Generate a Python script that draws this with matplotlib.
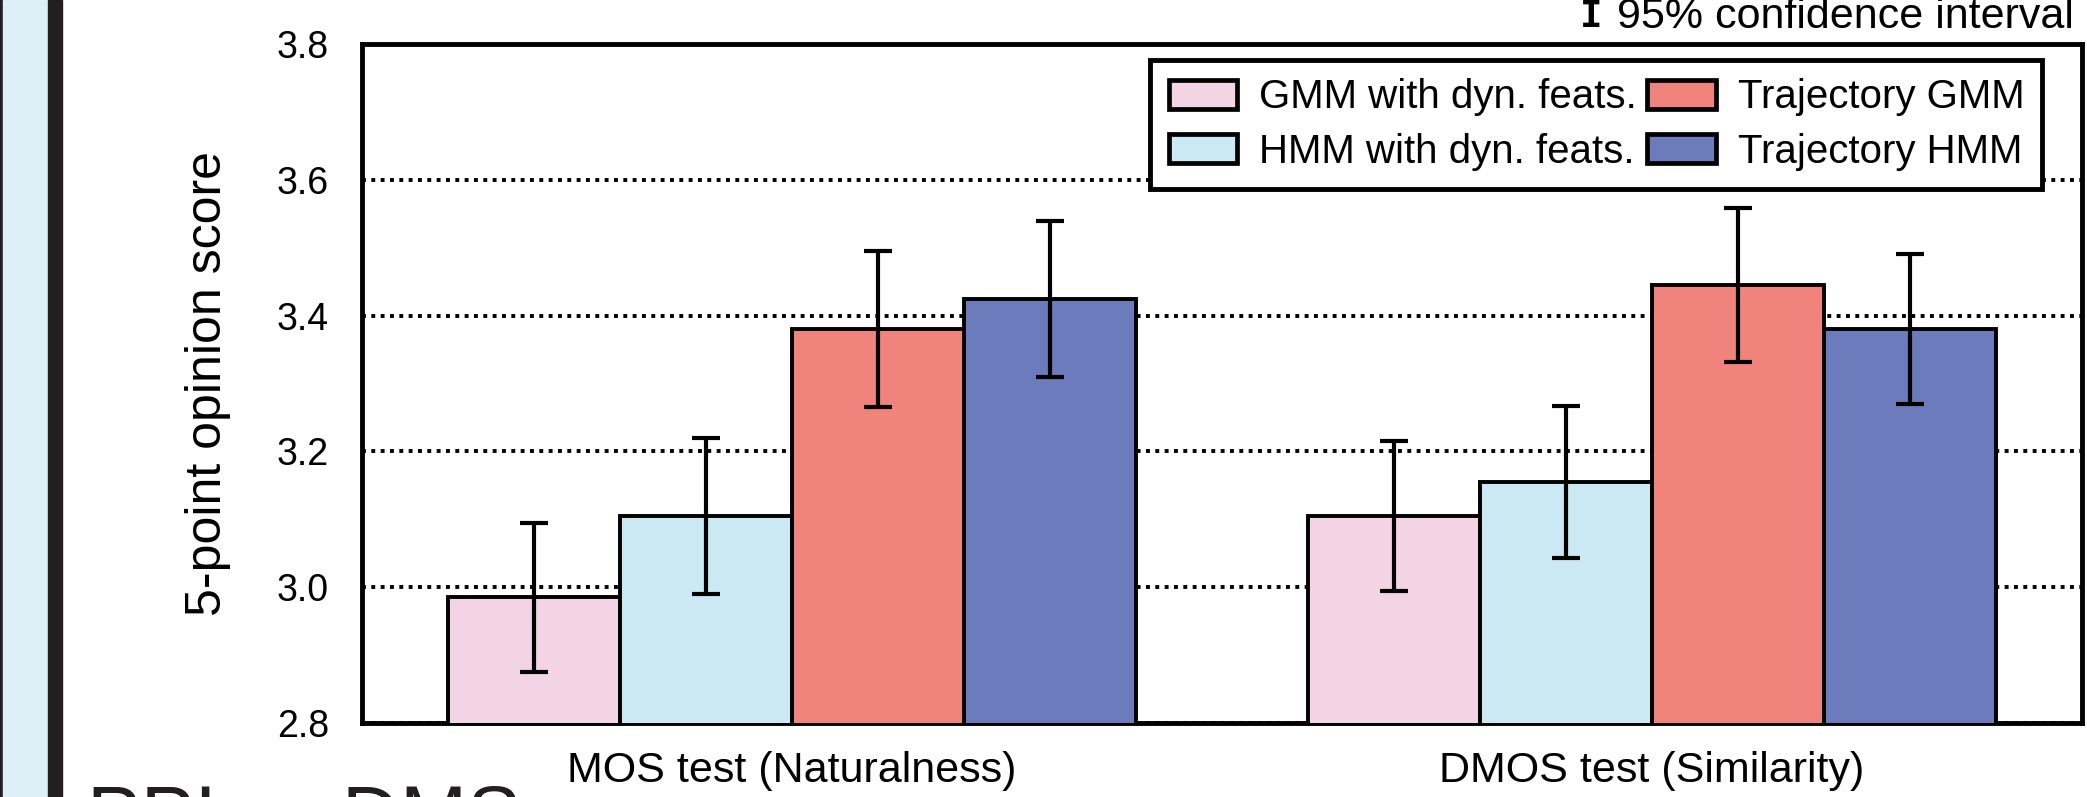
import matplotlib.pyplot as plt
import matplotlib.patches as mpatches
import numpy as np

plt.rcParams['font.family'] = ['Liberation Sans', 'DejaVu Sans']

# data
tests = ["MOS test (Naturalness)", "DMOS test (Similarity)"]
methods = ["GMM with dyn. feats.", "HMM with dyn. feats.", "Trajectory GMM", "Trajectory HMM"]
scores = {
    "GMM with dyn. feats.": [2.985, 3.105],
    "HMM with dyn. feats.": [3.105, 3.155],
    "Trajectory GMM": [3.38, 3.445],
    "Trajectory HMM": [3.425, 3.38],
}
ci = {
    "GMM with dyn. feats.": [0.11, 0.11],
    "HMM with dyn. feats.": [0.115, 0.112],
    "Trajectory GMM": [0.115, 0.114],
    "Trajectory HMM": [0.115, 0.11],
}
colors = ["#F2D4E4", "#CBE9F3", "#F0837B", "#6B7BBB"]
yticks = [2.8, 3.0, 3.2, 3.4, 3.6, 3.8]

fig = plt.figure(figsize=(20.87, 7.97), dpi=100)

# slide decoration on the left edge
fig.patches.append(mpatches.Rectangle((0, 0), 3 / 2087, 1, transform=fig.transFigure, color="#231F20", zorder=0))
fig.patches.append(mpatches.Rectangle((3 / 2087, 0), 45 / 2087, 1, transform=fig.transFigure, color="#DDF0F7", zorder=0))
fig.patches.append(mpatches.Rectangle((48 / 2087, 0), 14 / 2087, 1, transform=fig.transFigure, color="#231F20", zorder=0))
fig.text(87 / 2087, -0.058, "PPI vs DMS", fontsize=58, color="#231F20", ha="left", va="baseline")

ax = fig.add_axes([0.1735, 0.0929, 0.8241, 0.8519])

x = np.arange(len(tests))
width = 0.2
for i, m in enumerate(methods):
    pos = x + (i - 1.5) * width
    ax.bar(pos, scores[m], width, color=colors[i], edgecolor="black", linewidth=2.8,
           label=m, zorder=3)
    ax.errorbar(pos, scores[m], yerr=ci[m], fmt="none", ecolor="black",
                elinewidth=3, capsize=10, capthick=3, zorder=4)

ax.set_xlim(-0.5, 1.5)
ax.set_ylim(2.8, 3.8)
ax.set_yticks(yticks)
ax.set_yticklabels([f"{v:.1f}" for v in yticks])
ax.set_xticks(x)
ax.set_xticklabels(tests)
ax.tick_params(axis="both", length=0)
ax.tick_params(axis="y", pad=24, labelsize=27)
ax.tick_params(axis="x", pad=20, labelsize=31)
for s in ax.spines.values():
    s.set_linewidth(3.5)
ax.yaxis.grid(True, linestyle=(0, (1, 1.4)), linewidth=2.8, color="black", zorder=1)
ax.set_axisbelow(True)

ax.set_ylabel("5-point opinion score", fontsize=36)
ax.yaxis.label.set_va("center")
ax.yaxis.set_label_coords(-0.0895, 0.5)

leg = ax.legend(ncol=2, loc="upper right", bbox_to_anchor=(0.977, 0.976), borderaxespad=0,
                fontsize=29, frameon=True, fancybox=False, handlelength=1.7, handleheight=0.75,
                handletextpad=0.55, columnspacing=0.25, labelspacing=0.4, borderpad=0.45)
leg.get_frame().set_edgecolor("black")
leg.get_frame().set_linewidth(3.5)
leg.get_frame().set_alpha(1)
for h in leg.legend_handles:
    h.set_linewidth(3.4)

# confidence interval note above the plot
note = ax.text(0.995, 1.04, "95% confidence interval", transform=ax.transAxes,
               ha="right", va="center", fontsize=31)
ax.annotate("I", xy=(0, 0.5), xycoords=note, xytext=(-10, 0), textcoords="offset points",
            ha="right", va="center", fontsize=27, family="DejaVu Sans Mono", fontweight="bold")

fig.savefig("out.png", dpi=100)
